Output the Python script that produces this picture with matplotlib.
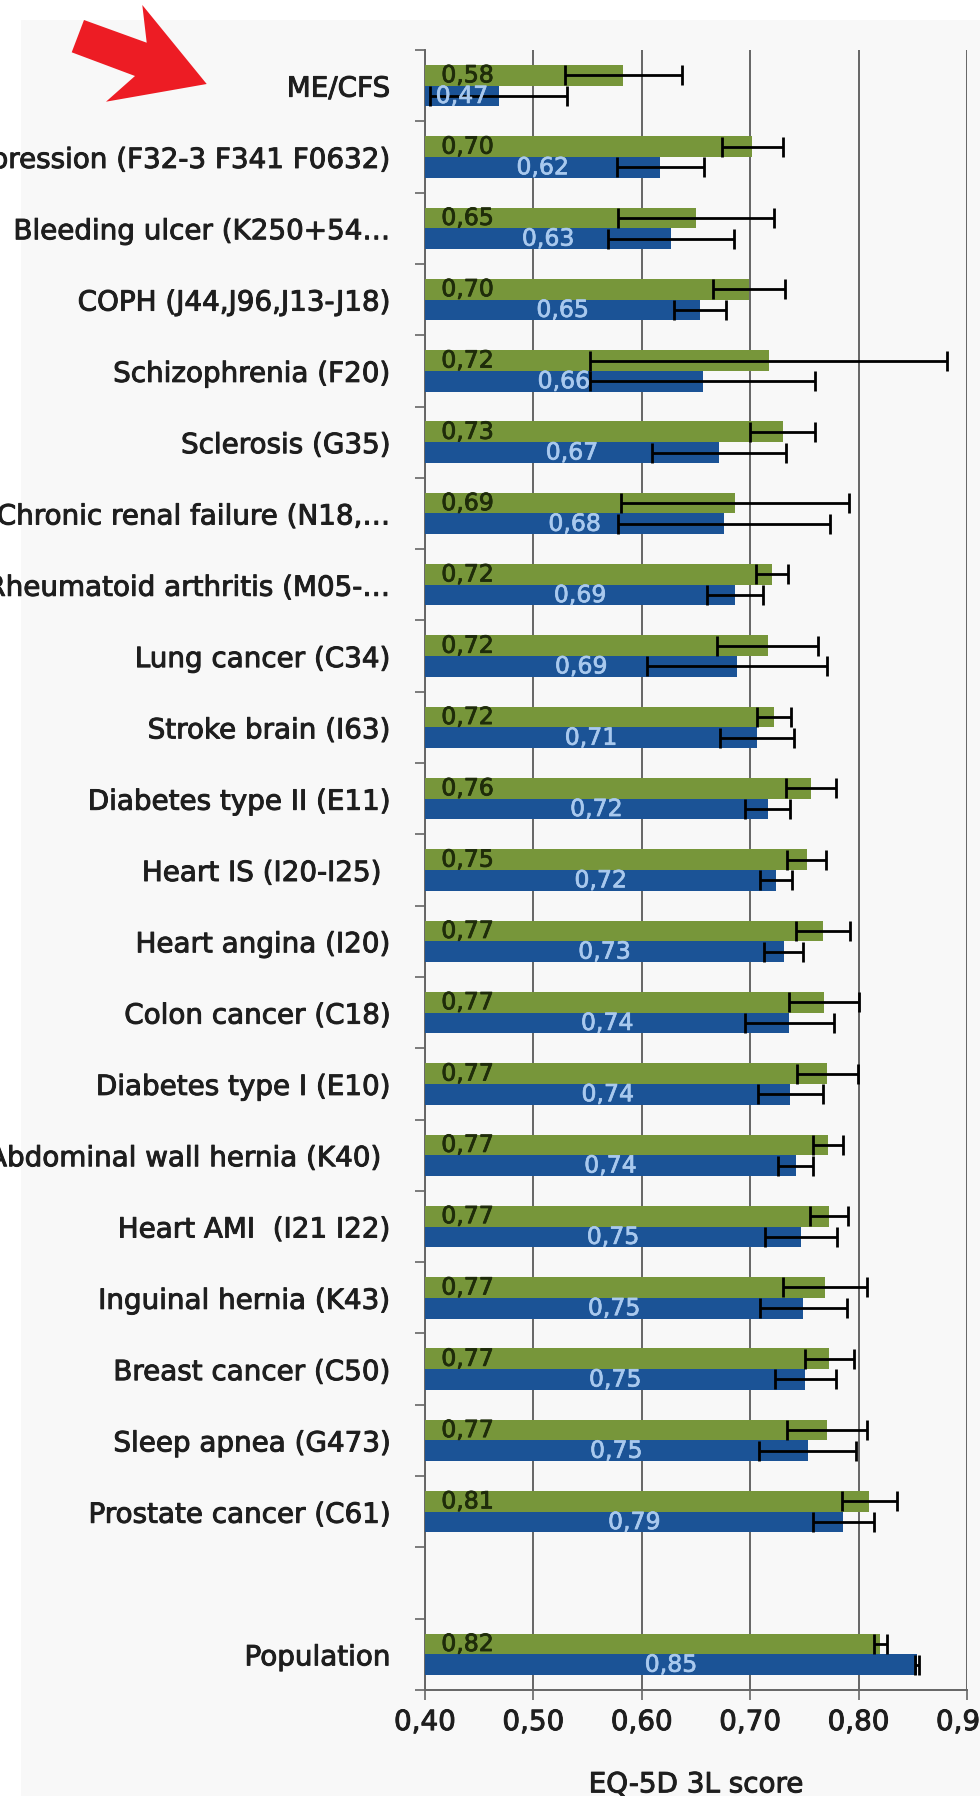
import numpy as np
import matplotlib
matplotlib.use("Agg")
import matplotlib.pyplot as plt
import matplotlib.patheffects as pe
from matplotlib.patches import Polygon, Rectangle

# Diagnosis groups (top to bottom); Population is shown apart after a gap
categories = [
    "ME/CFS",
    "Depression (F32-3 F341 F0632)",
    "Bleeding ulcer (K250+54\u2026",
    "COPH (J44,J96,J13-J18)",
    "Schizophrenia (F20)",
    "Sclerosis (G35)",
    "Chronic renal failure (N18,\u2026",
    "Rheumatoid arthritis (M05-\u2026",
    "Lung cancer (C34)",
    "Stroke brain (I63)",
    "Diabetes type II (E11)",
    "Heart IS (I20-I25) ",
    "Heart angina (I20)",
    "Colon cancer (C18)",
    "Diabetes type I (E10)",
    "Abdominal wall hernia (K40) ",
    "Heart AMI  (I21 I22)",
    "Inguinal hernia (K43)",
    "Breast cancer (C50)",
    "Sleep apnea (G473)",
    "Prostate cancer (C61)",
    "Population",
]

# EQ-5D 3L scores, first series (green)
green_vals = [0.583, 0.702, 0.650, 0.699, 0.717, 0.730, 0.686, 0.720, 0.716, 0.722,
              0.756, 0.752, 0.767, 0.768, 0.771, 0.772, 0.773, 0.769, 0.773, 0.771,
              0.810, 0.820]
green_err = [0.054, 0.028, 0.072, 0.033, 0.165, 0.030, 0.105, 0.015, 0.047, 0.016,
             0.023, 0.018, 0.025, 0.032, 0.028, 0.014, 0.0175, 0.039, 0.0225, 0.037,
             0.025, 0.006]

# EQ-5D 3L scores, second series (blue)
blue_vals = [0.468, 0.617, 0.627, 0.654, 0.656, 0.671, 0.676, 0.686, 0.688, 0.706,
             0.716, 0.724, 0.731, 0.736, 0.737, 0.742, 0.747, 0.749, 0.751, 0.753,
             0.786, 0.854]
blue_err = [0.063, 0.040, 0.058, 0.024, 0.104, 0.062, 0.098, 0.026, 0.083, 0.034,
            0.021, 0.015, 0.018, 0.041, 0.030, 0.016, 0.033, 0.040, 0.028, 0.045,
            0.028, 0.002]

x_ticks = [0.40, 0.50, 0.60, 0.70, 0.80, 0.90]
x_label = "EQ-5D 3L score"

GREEN = "#77963a"
BLUE = "#1b5396"
GREEN_TXT = "#1f2c0a"
BLUE_TXT = "#a9c9ee"
GRID = "#666666"
TXT = "#1e1e1e"

W, H = 980, 1796
fig = plt.figure(figsize=(W / 100, H / 100), dpi=100)
fig.patch.set_facecolor("white")

# light panel behind the chart
fig.patches.append(Rectangle((21 / W, 0), 1, 1 - 20 / H, transform=fig.transFigure,
                             facecolor="#f8f8f8", edgecolor="none", zorder=-5))

ax = fig.add_axes([425 / W, (H - 1690) / H, (967 - 425) / W, (1690 - 50) / H])
ax.set_facecolor("none")

n = len(categories)
pos = np.arange(n, dtype=float)
pos[-1] += 1  # empty slot before Population
h = 0.29

ax.barh(pos - h / 2, green_vals, height=h, color=GREEN, zorder=3)
ax.barh(pos + h / 2, blue_vals, height=h, color=BLUE, zorder=3)

eb_style = dict(fmt="none", ecolor="black", elinewidth=2.0, capsize=7.5,
                capthick=2.0, zorder=5)
ax.errorbar(green_vals, pos - h / 2, xerr=green_err, **eb_style)
ax.errorbar(blue_vals, pos + h / 2, xerr=blue_err, **eb_style)

heavy_green = [pe.withStroke(linewidth=0.6, foreground=GREEN_TXT)]
heavy_blue = [pe.withStroke(linewidth=0.5, foreground=BLUE_TXT)]
heavy_txt = [pe.withStroke(linewidth=0.7, foreground=TXT)]

xmin, xmax = 0.40, 0.90
for y, g, b in zip(pos, green_vals, blue_vals):
    ax.text(0.415, y - h / 2, f"{g:.2f}".replace(".", ","), ha="left", va="center",
            fontsize=17, color=GREEN_TXT, zorder=6, path_effects=heavy_green)
    ax.text((xmin + b) / 2, y + h / 2, f"{b:.2f}".replace(".", ","), ha="center",
            va="center", fontsize=17, color=BLUE_TXT, zorder=6, path_effects=heavy_blue)

ax.set_xlim(xmin, xmax)
ax.set_ylim(n + 0.5, -0.5)

ax.set_xticks(x_ticks)
ax.set_xticklabels([f"{t:.2f}".replace(".", ",") for t in x_ticks])
ax.tick_params(axis="x", direction="out", length=7, width=1.2, color=GRID,
               labelsize=20, labelcolor=TXT, pad=6)
ax.xaxis.grid(True, color=GRID, linewidth=1.4, zorder=0)
ax.set_axisbelow(True)

ax.set_yticks(pos)
ax.set_yticklabels(categories)
ax.set_yticks(np.arange(-0.5, n + 1.0, 1.0), minor=True)
ax.tick_params(axis="y", which="major", length=0, labelsize=20, labelcolor=TXT, pad=25)
ax.tick_params(axis="y", which="minor", direction="out", length=7, width=1.2, color=GRID)

for lab in ax.get_xticklabels() + ax.get_yticklabels():
    lab.set_path_effects(heavy_txt)

for side in ("top", "right"):
    ax.spines[side].set_visible(False)
for side in ("left", "bottom"):
    ax.spines[side].set_color(GRID)
    ax.spines[side].set_linewidth(1.4)

ax.set_xlabel(x_label, fontsize=20, color=TXT, path_effects=heavy_txt)
ax.xaxis.set_label_coords(0.5, -0.049)

# red pointer arrow at top left (figure pixel coordinates)
arrow_px = [(84, 20), (146.7, 42.7), (142.3, 5), (206.7, 84),
            (106, 101.7), (135, 76), (71.7, 52.3)]
arrow = Polygon([(x / W, 1 - y / H) for x, y in arrow_px], closed=True,
                transform=fig.transFigure, facecolor="#ed1c24", edgecolor="none",
                zorder=10)
fig.patches.append(arrow)

fig.savefig("out.png", dpi=100)
